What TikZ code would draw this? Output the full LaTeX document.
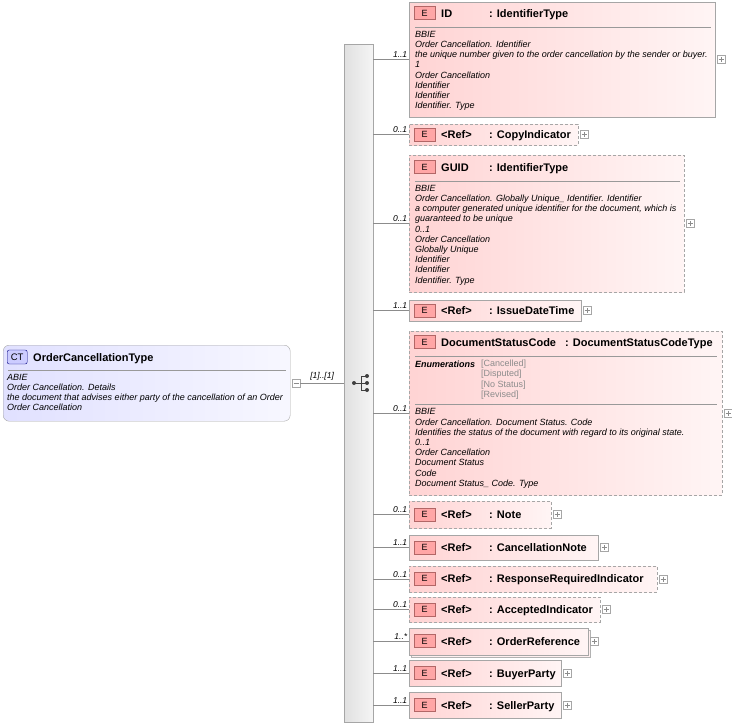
\documentclass[tikz,border=0pt]{standalone}
\usepackage{fontspec}
\setmainfont{Liberation Sans}
\begin{document}
\begin{tikzpicture}[x=1pt,y=-1pt,
  ebox/.style={draw=black!35,line width=0.7pt,left color=red!17,right color=red!4,anchor=north west,inner sep=0,outer sep=0},
  opt/.style={dashed,dash pattern=on 3pt off 2pt},
  badge/.style={draw=red!50!black!60,fill=red!35,minimum width=21pt,minimum height=13pt,inner sep=0,font=\fontsize{9}{9}\selectfont,anchor=west},
  ttl/.style={font=\bfseries\fontsize{11}{12}\selectfont,anchor=base west,inner sep=0},
  desc/.style={font=\itshape\fontsize{9}{10.2}\selectfont,anchor=north west,inner sep=0,align=left},
  mult/.style={font=\itshape\fontsize{8.5}{9}\selectfont,anchor=south east,inner sep=1.5pt},
  plus/.style={draw=black!35,fill=white,minimum size=8pt,inner sep=0,path picture={\draw[black!45] ([xshift=1.5pt]path picture bounding box.west)--([xshift=-1.5pt]path picture bounding box.east) ([yshift=-1.5pt]path picture bounding box.north)--([yshift=1.5pt]path picture bounding box.south);}},
  conn/.style={draw=black!45,line width=0.6pt}]
\useasboundingbox (0,0) rectangle (732,726);
% CT box
\node[draw=black!35,rounded corners=6pt,left color=blue!12,right color=blue!3,minimum width=287pt,minimum height=76pt,anchor=north west,inner sep=0] (ct) at (3,345) {};
\node[draw=blue!50!black,fill=blue!20,rounded corners=2pt,minimum width=20pt,minimum height=14pt,inner sep=0,anchor=west,font=\fontsize{9.5}{9.5}\selectfont] (ctb) at (7,357) {CT};
\node[ttl] (ctt) at (33,361) {OrderCancellationType};
\draw[black!40] (8,370) -- (286,370);
\node[desc] (ctd) at (7,374) {ABIE\\Order Cancellation. Details\\the document that advises either party of the cancellation of an Order\\Order Cancellation};
\node[draw=black!35,fill=white,minimum size=8pt,inner sep=0] (ctm) at (296,383) {};
\draw[black!45] (293.5,383) -- (298.5,383);
% sequence bar
\node[draw=black!35,left color=black!12,right color=black!4,minimum width=29pt,minimum height=678pt,anchor=north west,inner sep=0] (bar) at (344,44) {};
\draw[conn] (ctm.east) -- (bar.west |- ctm.east) node[pos=0.5,above,font=\itshape\fontsize{8.5}{9}\selectfont,inner sep=2pt] {[1]..[1]};
% compositor icon
\fill[black!75] (354,383) circle (2pt);
\draw[black!75,line width=0.9pt] (354,383) -- (361,383) (361,376) -- (361,390) (361,376) -- (366,376) (361,383) -- (366,383) (361,390) -- (366,390);
\fill[black!75] (367,376) circle (2pt) (367,383) circle (2pt) (367,390) circle (2pt);
\newcommand\elem[6]{%
  \node[ebox,#5,minimum width=#2pt,minimum height=#4pt] (#1) at (409,#3) {};
  \draw[conn] (bar.east |- #1.west) -- (#1.west) node[mult] {#6};
  \node[plus] (#1p) at ([xshift=6pt]#1.east) {};
}
\newcommand\head[5]{%
  \node[badge] (#1b) at (414,#2) {E};
  \node[ttl] (#1n) at (441,#2+4) {#3};
  \node[ttl] (#1t) at (#5,#2+4) {#4};
}
% 1 ID
\elem{id}{306}{2}{115}{}{1..1}
\head{id}{13}{ID}{: IdentifierType}{489}
\draw[black!40] (415,27) -- (711,27);
\node[desc] at (415,31) {BBIE\\Order Cancellation. Identifier\\the unique number given to the order cancellation by the sender or buyer.\\1\\Order Cancellation\\Identifier\\Identifier\\Identifier. Type};
% 2 CopyIndicator
\elem{ci}{169}{124}{21}{opt}{0..1}
\head{ci}{134.5}{<Ref>}{: CopyIndicator}{489}
% 3 GUID
\elem{gu}{275}{155}{137}{opt}{0..1}
\head{gu}{167}{GUID}{: IdentifierType}{489}
\draw[black!40] (415,181) -- (680,181);
\node[desc] at (415,185) {BBIE\\Order Cancellation. Globally Unique\_ Identifier. Identifier\\a computer generated unique identifier for the document, which is\\guaranteed to be unique\\0..1\\Order Cancellation\\Globally Unique\\Identifier\\Identifier\\Identifier. Type};
% 4 IssueDateTime
\elem{it}{172}{300}{21}{}{1..1}
\head{it}{310.5}{<Ref>}{: IssueDateTime}{489}
% 5 DocumentStatusCode
\elem{ds}{313}{331}{164}{opt}{0..1}
\head{ds}{342}{DocumentStatusCode}{: DocumentStatusCodeType}{565}
\draw[black!40] (415,356) -- (717,356);
\node[font=\bfseries\itshape\fontsize{9}{10}\selectfont,anchor=north west,inner sep=0] (enl) at (415,361) {Enumerations};
\node[font=\fontsize{9}{10.2}\selectfont,text=black!45,anchor=north west,inner sep=0,align=left] (env) at (481,360) {{[Cancelled]}\\{[Disputed]}\\{[No Status]}\\{[Revised]}};
\draw[black!40] (415,404) -- (717,404);
\node[desc] at (415,408.5) {BBIE\\Order Cancellation. Document Status. Code\\Identifies the status of the document with regard to its original state.\\0..1\\Order Cancellation\\Document Status\\Code\\Document Status\_ Code. Type};
% 6 Note
\elem{no}{142}{501}{27}{opt}{0..1}
\head{no}{514.5}{<Ref>}{: Note}{489}
% 7 CancellationNote
\elem{cn}{189}{535}{25}{}{1..1}
\head{cn}{547.5}{<Ref>}{: CancellationNote}{489}
% 8 ResponseRequiredIndicator
\elem{rr}{248}{566}{26}{opt}{0..1}
\head{rr}{578.5}{<Ref>}{: ResponseRequiredIndicator}{489}
% 9 AcceptedIndicator
\elem{ai}{191}{597}{25}{opt}{0..1}
\head{ai}{609.5}{<Ref>}{: AcceptedIndicator}{489}
% 10 OrderReference
\draw[black!30,fill=red!6] (411,630) rectangle (590,657);
\elem{or}{179}{628}{27}{}{1..*}
\head{or}{641}{<Ref>}{: OrderReference}{489}
% 11 BuyerParty
\elem{bp}{152}{660}{26}{}{1..1}
\head{bp}{673}{<Ref>}{: BuyerParty}{489}
% 12 SellerParty
\elem{sp}{152}{692}{26}{}{1..1}
\head{sp}{705}{<Ref>}{: SellerParty}{489}
\end{tikzpicture}
\end{document}
